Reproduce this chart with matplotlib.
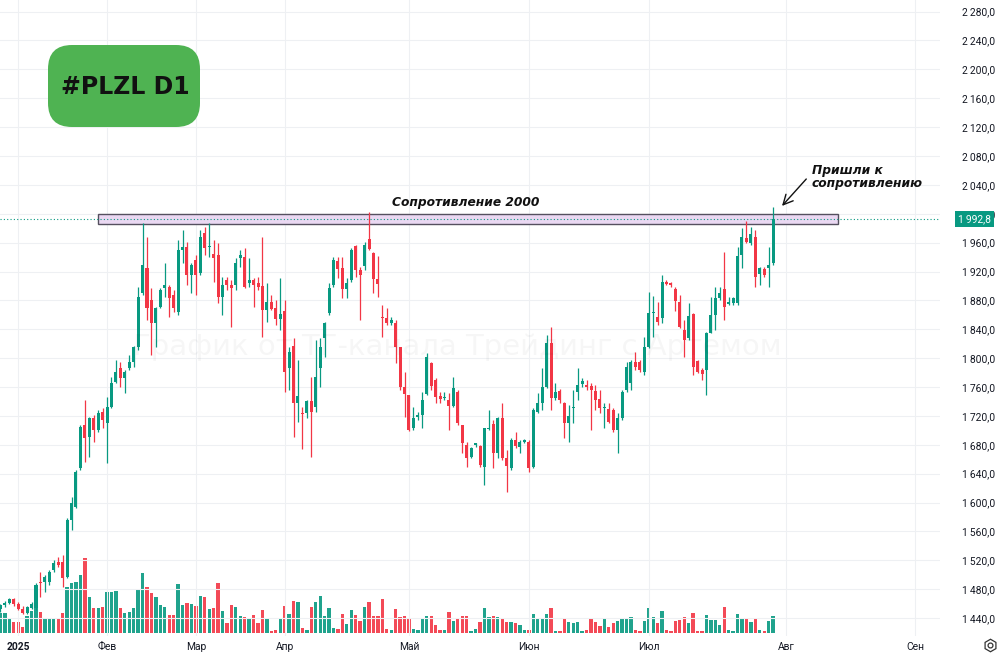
import matplotlib
matplotlib.use("Agg")
import matplotlib.pyplot as plt
import matplotlib.transforms as mtransforms
from matplotlib.patches import Rectangle, FancyBboxPatch

# PLZL, daily candles (Jan - Jul 2025)
opens = [1452, 1458, 1461, 1466, 1459, 1453, 1447, 1454, 1453.4, 1490.4,
         1490.4, 1490.4, 1506.5, 1518.1, 1518.0, 1497.3, 1575.8, 1594.2, 1647.4, 1707.4,
         1691.2, 1716.6, 1700.4, 1725.9, 1709.7, 1732.8, 1767.4, 1785.9, 1772.0, 1785.9,
         1795.1, 1815.9, 1889.8, 1924.4, 1880.5, 1848.2, 1871.3, 1896.7, 1899.0, 1887.5,
         1864.4, 1949.8, 1954.4, 1915.2, 1935.9, 1917.5, 1972.9, 1953.5, 1943.9, 1942.9,
         1885.1, 1908.2, 1901.3, 1901.3, 1938.2, 1940.6, 1903.6, 1908.2, 1904.5, 1900.0,
         1866.7, 1878.2, 1869.0, 1854.2, 1865.8, 1786.8, 1817.3, 1738.3, 1724.5, 1723.5,
         1741.1, 1732.8, 1785.9, 1827.4, 1862.1, 1901.3, 1934.6, 1924.4, 1895.3, 1908.2,
         1955.3, 1922.1, 1927.6, 1964.6, 1946.1, 1909.6, 1857.4, 1856.0, 1848.2, 1849.1,
         1815.0, 1760.5, 1749.0, 1702.8, 1719.0, 1721.2, 1750.3, 1792.8, 1769.7, 1747.5,
         1744.3, 1742.0, 1733.7, 1753.5, 1707.4, 1679.7, 1663.5, 1679.7, 1678.3, 1649.6,
         1701.9, 1708.7, 1668.1, 1717.5, 1661.2, 1647.3, 1686.6, 1677.4, 1684.3, 1683.4,
         1649.6, 1725.9, 1737.4, 1760.5, 1820.5, 1744.3, 1754.5, 1737.4, 1709.7, 1731.0,
         1753.5, 1763.7, 1762.8, 1761.4, 1755.0, 1743.0, 1730.5, 1729.1, 1728.2, 1700.4,
         1716.6, 1755.9, 1765.1, 1794.2, 1794.2, 1781.3, 1815.9, 1863.0, 1857.4, 1855.1,
         1906.0, 1903.6, 1895.8, 1878.2, 1839.0, 1827.4, 1861.1, 1796.0, 1783.6, 1783.6,
         1835.3, 1859.8, 1882.8, 1895.3, 1875.0, 1876.0, 1876.0, 1942.9, 1966.9, 1959.0,
         1968.3, 1916.5, 1923.5, 1924.4, 1931.3]
highs = [1460, 1463, 1468, 1468, 1462, 1456, 1457, 1462, 1488.0, 1504.2,
         1499.0, 1506.5, 1520.4, 1525.0, 1527.0, 1578.0, 1608.0, 1645.0, 1707.4, 1742.0,
         1719.0, 1721.0, 1728.2, 1730.5, 1746.6, 1774.3, 1797.4, 1795.1, 1783.6, 1804.3,
         1817.0, 1899.0, 1986.7, 1968.3, 1896.7, 1871.3, 1896.7, 1931.3, 1901.3, 1894.4,
         1963.6, 1977.5, 1961.3, 1931.3, 1942.9, 1977.5, 1982.1, 1986.7, 1963.6, 1959.0,
         1912.9, 1912.9, 1908.2, 1938.2, 1949.8, 1952.1, 1938.2, 1910.5, 1912.9, 1968.3,
         1903.6, 1887.5, 1880.5, 1910.5, 1880.5, 1815.9, 1827.4, 1797.4, 1732.8, 1742.0,
         1774.3, 1825.1, 1827.4, 1850.5, 1903.6, 1940.6, 1940.6, 1940.6, 1910.5, 1952.1,
         1956.7, 1926.7, 1961.3, 2002.9, 1947.5, 1941.5, 1873.6, 1869.0, 1857.4, 1852.8,
         1815.9, 1781.3, 1749.5, 1732.8, 1725.9, 1753.5, 1806.6, 1795.1, 1772.0, 1753.5,
         1753.5, 1751.2, 1774.3, 1755.9, 1707.4, 1684.3, 1677.4, 1683.0, 1679.7, 1702.8,
         1728.2, 1714.3, 1718.9, 1737.4, 1672.7, 1688.9, 1697.2, 1686.6, 1687.5, 1686.6,
         1730.5, 1751.2, 1785.9, 1832.0, 1843.6, 1765.1, 1756.8, 1739.7, 1735.1, 1755.9,
         1785.9, 1772.0, 1769.7, 1765.1, 1762.8, 1755.9, 1737.4, 1737.4, 1730.5, 1723.5,
         1755.9, 1795.1, 1797.4, 1809.0, 1797.4, 1829.7, 1892.1, 1886.1, 1878.2, 1915.2,
         1908.2, 1906.0, 1898.1, 1887.5, 1852.8, 1875.9, 1862.1, 1797.4, 1785.9, 1836.7,
         1885.1, 1899.0, 1899.0, 1947.5, 1885.1, 1885.1, 1954.4, 1979.8, 1990.4, 1982.1,
         1977.5, 1926.7, 1926.7, 1954.4, 2009.8]
lows = [1449, 1455, 1459, 1457, 1451, 1445, 1445, 1452, 1451.0, 1469.6,
        1476.5, 1485.7, 1504.2, 1511.0, 1483.5, 1495.0, 1562.0, 1592.0, 1645.0, 1656.6,
        1663.5, 1684.3, 1698.0, 1702.8, 1654.3, 1730.5, 1765.1, 1760.5, 1751.2, 1783.6,
        1788.2, 1811.3, 1887.5, 1852.8, 1804.3, 1815.9, 1869.0, 1885.1, 1857.4, 1864.4,
        1859.8, 1931.3, 1901.3, 1889.8, 1887.5, 1915.2, 1942.9, 1940.6, 1906.0, 1875.9,
        1859.8, 1894.4, 1843.6, 1894.4, 1926.7, 1896.7, 1899.0, 1871.3, 1894.4, 1829.7,
        1850.5, 1866.7, 1845.9, 1839.0, 1753.5, 1755.9, 1691.2, 1712.0, 1673.7, 1716.6,
        1663.5, 1725.9, 1760.5, 1802.0, 1859.8, 1899.0, 1910.5, 1882.8, 1882.8, 1906.0,
        1912.9, 1852.8, 1922.1, 1949.8, 1889.8, 1885.1, 1829.7, 1845.9, 1845.9, 1792.8,
        1755.9, 1718.9, 1699.5, 1700.4, 1714.3, 1702.8, 1749.0, 1755.9, 1737.4, 1737.4,
        1742.0, 1700.4, 1732.8, 1707.4, 1668.1, 1649.6, 1661.2, 1677.4, 1649.6, 1624.3,
        1700.4, 1647.3, 1661.2, 1658.9, 1615.0, 1645.0, 1675.1, 1668.1, 1682.0, 1642.7,
        1647.3, 1723.5, 1728.2, 1758.2, 1728.2, 1742.0, 1737.4, 1688.9, 1684.3, 1709.7,
        1742.0, 1760.5, 1755.9, 1700.4, 1728.2, 1723.5, 1702.8, 1709.7, 1698.1, 1668.1,
        1714.3, 1753.5, 1755.9, 1783.6, 1781.3, 1776.6, 1813.6, 1829.7, 1846.0, 1848.2,
        1901.3, 1899.0, 1865.8, 1841.3, 1802.0, 1825.1, 1776.6, 1779.0, 1769.7, 1749.0,
        1834.4, 1839.0, 1880.5, 1852.8, 1873.6, 1873.6, 1873.6, 1924.4, 1959.0, 1956.7,
        1899.0, 1901.3, 1912.0, 1899.0, 1929.0]
closes = [1458, 1461, 1466, 1459, 1453, 1447, 1455, 1460, 1485.7, 1488.1,
          1497.3, 1504.2, 1515.7, 1513.5, 1495.0, 1575.8, 1598.8, 1642.8, 1705.1, 1689.0,
          1716.6, 1700.4, 1723.5, 1714.3, 1732.8, 1765.1, 1781.3, 1772.0, 1781.3, 1795.1,
          1815.9, 1885.1, 1929.0, 1869.0, 1848.2, 1869.0, 1894.4, 1901.3, 1882.8, 1869.0,
          1949.8, 1954.4, 1915.2, 1929.0, 1915.2, 1968.3, 1952.1, 1955.5, 1938.3, 1885.1,
          1901.3, 1901.3, 1897.6, 1931.3, 1942.9, 1899.0, 1908.2, 1901.3, 1899.0, 1866.7,
          1878.2, 1868.1, 1853.7, 1861.1, 1781.3, 1809.0, 1738.3, 1747.5, 1722.6, 1741.1,
          1725.0, 1774.3, 1815.9, 1848.2, 1896.7, 1935.9, 1923.1, 1895.3, 1903.6, 1949.8,
          1922.1, 1915.2, 1956.7, 1950.7, 1909.2, 1902.2, 1855.6, 1848.2, 1852.8, 1815.0,
          1759.6, 1749.8, 1700.4, 1716.6, 1721.2, 1742.0, 1802.0, 1761.4, 1746.6, 1743.0,
          1746.6, 1733.7, 1758.2, 1709.7, 1682.0, 1661.2, 1675.1, 1682.0, 1652.0, 1702.8,
          1703.7, 1668.1, 1716.6, 1661.2, 1650.6, 1686.6, 1678.3, 1684.3, 1686.6, 1647.3,
          1728.2, 1737.4, 1760.5, 1820.5, 1744.3, 1753.5, 1742.0, 1709.7, 1719.9, 1732.8,
          1762.8, 1768.4, 1760.5, 1755.9, 1742.0, 1730.5, 1731.4, 1712.0, 1700.4, 1716.6,
          1753.5, 1788.2, 1795.1, 1788.2, 1783.6, 1815.9, 1863.0, 1864.4, 1850.5, 1906.0,
          1902.8, 1901.3, 1879.6, 1843.6, 1825.1, 1858.4, 1788.2, 1781.3, 1778.0, 1835.3,
          1859.8, 1882.8, 1889.8, 1871.3, 1878.2, 1882.9, 1941.5, 1968.3, 1961.3, 1972.0,
          1912.0, 1924.4, 1915.2, 1929.0, 1992.8]
volumes = [60, 58, 43, 33, 33, 18, 50, 66, 73, 63,
           43, 41, 43, 43, 60, 138, 148, 153, 173, 223,
           108, 73, 73, 76, 123, 123, 126, 73, 60, 63,
           75, 128, 178, 136, 120, 106, 83, 76, 53, 53,
           145, 83, 90, 86, 80, 111, 106, 71, 73, 148,
           66, 28, 83, 78, 51, 48, 41, 53, 28, 68,
           45, 6, 8, 41, 80, 56, 95, 91, 13, 8,
           78, 93, 111, 51, 75, 13, 10, 56, 25, 68,
           53, 36, 78, 91, 51, 51, 100, 10, 8, 70,
           48, 51, 43, 10, 8, 45, 50, 50, 23, 8,
           8, 63, 36, 40, 50, 50, 6, 10, 33, 73,
           46, 50, 48, 43, 33, 31, 28, 23, 8, 8,
           56, 41, 41, 56, 73, 6, 6, 43, 31, 28,
           33, 6, 8, 40, 33, 20, 40, 18, 28, 36,
           40, 43, 48, 8, 6, 35, 73, 46, 30, 66,
           8, 6, 36, 38, 46, 30, 60, 6, 6, 53,
           38, 38, 23, 76, 8, 6, 56, 45, 45, 33,
           41, 8, 6, 35, 51]

# month labels on the time axis (bar index of first bar of month)
month_pos = [4, 24, 44, 64, 92, 119, 146, 177, 206]
month_labels = ["2025", "Фев", "Мар", "Апр", "Май", "Июн", "Июл", "Авг", "Сен"]
price_ticks = list(range(1440, 2281, 40))

# resistance zone drawn on the chart
zone_low, zone_high = 1986, 1999
zone_start, zone_end = 22, 188.6

GREEN = "#089981"
RED = "#f23645"

fig = plt.figure(figsize=(10, 6.55), dpi=100)
fig.patch.set_facecolor("white")

ax = fig.add_axes([0, 19 / 655, 0.94, 636 / 655])
axv = ax.twinx()
ax.set_zorder(axv.get_zorder() + 1)
ax.patch.set_visible(False)

idx = list(range(len(opens)))
colors = [GREEN if c >= o else RED for o, c in zip(opens, closes)]

# volume at the bottom
axv.bar(idx, volumes, width=0.75, color=colors, alpha=0.9, linewidth=0)
axv.set_ylim(-10, 1898)
axv.axis("off")

# candles
ax.vlines(idx, lows, highs, colors=colors, linewidth=0.9, zorder=3)
bottoms = [min(o, c) for o, c in zip(opens, closes)]
heights = [max(abs(c - o), 1.2) for o, c in zip(opens, closes)]
ax.bar(idx, heights, bottom=bottoms, width=0.68, color=colors, linewidth=0, zorder=4)

ax.set_xlim(-0.11, 211.6)
ax.set_ylim(1415.1, 2296.1)

# grid
ax.set_yticks(price_ticks)
ax.set_xticks(month_pos)
ax.grid(True, color="#eef0f3", linewidth=0.8)
ax.set_axisbelow(True)
for s in ax.spines.values():
    s.set_visible(False)

ax.yaxis.tick_right()
ax.set_yticklabels([f"{v:,}".replace(",", "\u2009") + ",0" for v in price_ticks],
                   fontsize=7.4, color="#131722", family=["Roboto", "DejaVu Sans"])
ax.tick_params(axis="y", length=0, pad=16)
ax.set_xticklabels(month_labels, fontsize=7.4, color="#131722",
                   family=["Roboto", "DejaVu Sans"])
ax.tick_params(axis="x", length=0, pad=4)
ax.get_xticklabels()[0].set_fontweight("bold")

# resistance zone
ax.add_patch(Rectangle((zone_start, zone_low), zone_end - zone_start, zone_high - zone_low,
                       facecolor="#ead8f2", edgecolor="#55505f", linewidth=1.0, zorder=2))
ax.text((zone_start + zone_end) / 2 - 0.5, 2015, "Сопротивление 2000", ha="center", va="center",
        fontsize=8.8, fontweight="bold", fontstyle="italic", color="#111111", zorder=6)

# last price line and label (it covers the 2 000,0 tick as on the original)
last = closes[-1]
ax.axhline(last, color=GREEN, linestyle=(0, (1, 2)), linewidth=0.8, zorder=2.5)
trans = mtransforms.blended_transform_factory(fig.transFigure, ax.transData)
ax.text(0.9745, last, "1\u2009992,8", transform=trans, ha="center", va="center",
        fontsize=7.4, color="white", family=["Roboto", "DejaVu Sans"], zorder=10,
        bbox=dict(boxstyle="square,pad=0.25", facecolor=GREEN, edgecolor="none"),
        clip_on=False)

# comment with arrow
ax.text(182.7, 2051, "Пришли к\nсопротивлению", ha="left", va="center", fontsize=8.8,
        fontweight="bold", fontstyle="italic", color="#111111", linespacing=1.05, zorder=6)
ax.annotate("", xy=(175.6, 2008), xytext=(181.9, 2051),
            arrowprops=dict(arrowstyle="->,head_length=0.7,head_width=0.35",
                            color="#111111", lw=1.0), zorder=6)

# overlay in pixel units for the badge, watermark and settings icon
ov = fig.add_axes([0, 0, 1, 1], zorder=20)
ov.set_xlim(0, 1000)
ov.set_ylim(655, 0)
ov.axis("off")
ov.add_patch(FancyBboxPatch((60, 57), 128, 58, boxstyle="round,pad=12,rounding_size=24",
                            facecolor="#4fb352", edgecolor="none"))
ov.text(125, 87, "#PLZL D1", ha="center", va="center", fontsize=17, fontweight="bold",
        color="#111111", family=["DejaVu Sans"])
ov.text(457, 347, "График от ТГ-канала Трейдинг с Артемом", ha="center", va="center",
        fontsize=21, color="#000000", alpha=0.035)
ov.plot([990], [645], marker="h", markersize=9, markerfacecolor="none",
        markeredgecolor="#333333", markeredgewidth=0.9)
ov.plot([990], [645], marker="o", markersize=3.5, markerfacecolor="none",
        markeredgecolor="#333333", markeredgewidth=0.9)

fig.savefig("out.png", dpi=100)
